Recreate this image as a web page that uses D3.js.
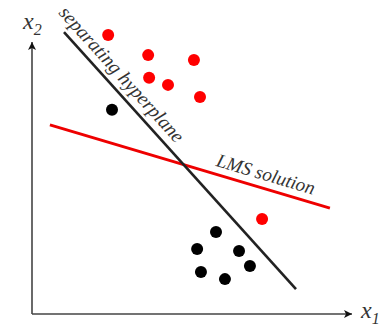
<!DOCTYPE html>
<html>
<head>
<meta charset="utf-8">
<script src="https://cdn.jsdelivr.net/npm/d3@7"></script>
<style>
  html, body { margin: 0; padding: 0; background: #fff; }
  svg { display: block; }
</style>
</head>
<body>
<svg id="chart" width="385" height="328"></svg>
<script>
// Class 1 (red) and class 2 (black) samples, data units
const redX = [2.38, 3.63, 5.06, 3.66, 4.25, 5.25, 7.19];
const redY = [8.72, 8.09, 7.94, 7.38, 7.16, 6.78, 2.97];
const blackX = [2.5, 5.75, 5.16, 6.47, 6.81, 5.28, 6.03];
const blackY = [6.38, 2.56, 2.03, 1.97, 1.5, 1.31, 1.09];

// Lines: [x0, y0, x1, y1]
const hyperplane = [1.0, 8.81, 8.25, 0.78];
const lmsLine = [0.56, 5.91, 9.31, 3.31];

const serif = "'Liberation Serif', 'Times New Roman', serif";

const svg = d3.select("#chart");

const x = d3.scaleLinear().domain([0, 10]).range([32, 352]);
const y = d3.scaleLinear().domain([0, 8.5]).range([314, 42]);

// arrow markers
const defs = svg.append("defs");
defs.append("marker")
    .attr("id", "arrow")
    .attr("viewBox", "0 0 10 10")
    .attr("refX", 10).attr("refY", 5)
    .attr("markerWidth", 12).attr("markerHeight", 8)
    .attr("markerUnits", "userSpaceOnUse")
    .attr("orient", "auto")
    .append("path")
    .attr("d", "M0,0 L10,5 L0,10 L2.5,5 Z")
    .attr("fill", "#111");

// axes
svg.append("line")
    .attr("x1", x(0)).attr("y1", y(0))
    .attr("x2", x(0)).attr("y2", y(8.5))
    .attr("stroke", "#444").attr("stroke-width", 1.6)
    .attr("marker-end", "url(#arrow)");
svg.append("line")
    .attr("x1", x(0)).attr("y1", y(0))
    .attr("x2", x(10)).attr("y2", y(0))
    .attr("stroke", "#444").attr("stroke-width", 1.6)
    .attr("marker-end", "url(#arrow)");

// axis labels
function axisLabel(px, py, sub) {
    const t = svg.append("text")
        .attr("x", px).attr("y", py)
        .attr("font-family", serif).attr("font-style", "italic")
        .attr("fill", "#333").attr("font-size", 24);
    t.append("tspan").text("x");
    t.append("tspan").attr("dy", 6).attr("font-size", 16).text(sub);
}
axisLabel(23, 29, "2");
axisLabel(361, 318, "1");

function drawLine(l, color, w) {
    svg.append("line")
        .attr("x1", x(l[0])).attr("y1", y(l[1]))
        .attr("x2", x(l[2])).attr("y2", y(l[3]))
        .attr("stroke", color).attr("stroke-width", w);
}
drawLine(lmsLine, "#ee0000", 3);
drawLine(hyperplane, "#222", 2.6);

// rotated labels along the lines
function lineLabel(l, label, t, offset, size) {
    const px0 = x(l[0]), py0 = y(l[1]), px1 = x(l[2]), py1 = y(l[3]);
    const ang = Math.atan2(py1 - py0, px1 - px0);
    const len = Math.hypot(px1 - px0, py1 - py0);
    const ux = (px1 - px0) / len, uy = (py1 - py0) / len;
    const px = px0 + ux * t + uy * offset;
    const py = py0 + uy * t - ux * offset;
    svg.append("text")
        .attr("transform", `translate(${px},${py}) rotate(${ang * 180 / Math.PI})`)
        .attr("font-family", serif).attr("font-style", "italic")
        .attr("fill", "#333").attr("font-size", size)
        .text(label);
}
lineLabel(hyperplane, "separating hyperplane", -18, 8, 19.5);
lineLabel(lmsLine, "LMS solution", 170, 8, 19);

// points
svg.selectAll(".red").data(redX).enter().append("circle")
    .attr("class", "red")
    .attr("cx", d => x(d)).attr("cy", (d, i) => y(redY[i]))
    .attr("r", 6).attr("fill", "#ff0000");
svg.selectAll(".black").data(blackX).enter().append("circle")
    .attr("class", "black")
    .attr("cx", d => x(d)).attr("cy", (d, i) => y(blackY[i]))
    .attr("r", 6).attr("fill", "#000");
</script>
</body>
</html>
